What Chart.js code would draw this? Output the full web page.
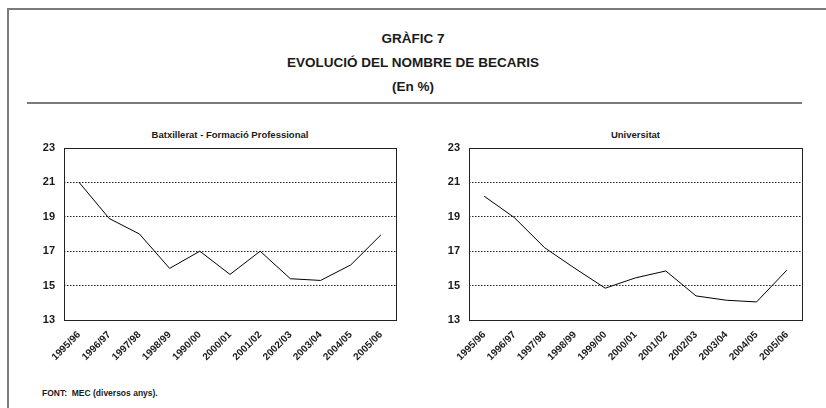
<!DOCTYPE html>
<html><head><meta charset="utf-8">
<script src="https://cdn.jsdelivr.net/npm/chart.js@4/dist/chart.umd.min.js"></script>
<style>
html,body{margin:0;padding:0;background:#fff;}
body{width:826px;height:408px;position:relative;overflow:hidden;font-family:"Liberation Sans",Arial,sans-serif;color:#1a1a1a;}
#frame{position:absolute;left:7px;top:8px;width:830px;height:420px;border-left:2px solid #7a7a7a;border-top:2px solid #7a7a7a;}
.t{position:absolute;left:0;width:826px;text-align:center;font-weight:bold;font-size:13.5px;}
#sep{position:absolute;left:27px;top:102px;width:775px;height:2px;background:#7a7a7a;}
.sub{position:absolute;font-weight:bold;font-size:9.5px;text-align:center;}
canvas{position:absolute;}
#foot{position:absolute;left:42px;top:388px;font-weight:bold;font-size:8.5px;}
</style></head><body>
<div id="frame"></div>
<div class="t" style="top:31px">GRÀFIC 7</div>
<div class="t" style="top:55px">EVOLUCIÓ DEL NOMBRE DE BECARIS</div>
<div class="t" style="top:79px">(En %)</div>
<div id="sep"></div>
<div class="sub" style="left:64px;width:332px;top:129px">Batxillerat - Formació Professional</div>
<div class="sub" style="left:469px;width:333px;top:129px">Universitat</div>
<div style="position:absolute;left:20px;top:120px;width:400px;height:250px"><canvas id="c1" width="400" height="250"></canvas></div>
<div style="position:absolute;left:425px;top:120px;width:400px;height:250px"><canvas id="c2" width="400" height="250"></canvas></div>
<div id="foot">FONT:&nbsp; MEC (diversos anys).</div>
<script>
const categoriesBatx = ["1995/96","1996/97","1997/98","1998/99","1990/00","2000/01","2001/02","2002/03","2003/04","2004/05","2005/06"];
const categoriesUniv = ["1995/96","1996/97","1997/98","1998/99","1999/00","2000/01","2001/02","2002/03","2003/04","2004/05","2005/06"];
const valuesBatx = [21.0, 18.9, 18.0, 16.0, 17.0, 15.65, 17.0, 15.4, 15.3, 16.2, 17.95];
const valuesUniv = [20.2, 18.95, 17.2, 16.0, 14.85, 15.45, 15.85, 14.4, 14.15, 14.05, 15.9];
const yTicks = [13, 15, 17, 19, 21, 23];

const framePlugin = {
  id: 'frame',
  afterDraw(chart){
    const a = chart.chartArea, ctx = chart.ctx;
    ctx.save();
    ctx.strokeStyle = '#222';
    ctx.lineWidth = 1;
    ctx.strokeRect(Math.round(a.left)+0.5, Math.round(a.top)+0.5, Math.round(a.right-a.left), Math.round(a.bottom-a.top));
    ctx.restore();
  }
};

function makeChart(id, labels, values, padRight){
  return new Chart(document.getElementById(id), {
    type: 'line',
    data: { labels: labels, datasets: [{ data: values, borderColor: '#000', borderWidth: 1, pointRadius: 0, tension: 0, fill: false }] },
    options: {
      responsive: false, animation: false,
      layout: { padding: { top: 28, right: padRight, left: 0, bottom: 0 } },
      plugins: { legend: { display: false }, tooltip: { enabled: false } },
      scales: {
        x: {
          offset: true,
          grid: { display: false, drawTicks: false },
          border: { display: false },
          ticks: { maxRotation: 45, minRotation: 45, autoSkip: false, padding: 9, color: '#1a1a1a',
                   font: { family: 'Liberation Sans', weight: 'bold', size: 10 } },
          afterFit(s){ s.height = 50; }
        },
        y: {
          min: 13, max: 23,
          afterBuildTicks(s){ s.ticks = yTicks.map(v => ({ value: v })); },
          grid: { drawTicks: false, lineWidth: 1,
                  color: ctx => (ctx.tick && (ctx.tick.value === 13 || ctx.tick.value === 23)) ? 'rgba(0,0,0,0)' : '#222' },
          border: { display: false, dash: [1.5, 1.5] },
          ticks: { padding: 9, color: '#1a1a1a', font: { family: 'Liberation Sans', weight: 'bold', size: 11 } },
          afterFit(s){ s.width = 44; }
        }
      }
    },
    plugins: [framePlugin]
  });
}
makeChart('c1', categoriesBatx, valuesBatx, 24);
makeChart('c2', categoriesUniv, valuesUniv, 23);
</script>
</body></html>
